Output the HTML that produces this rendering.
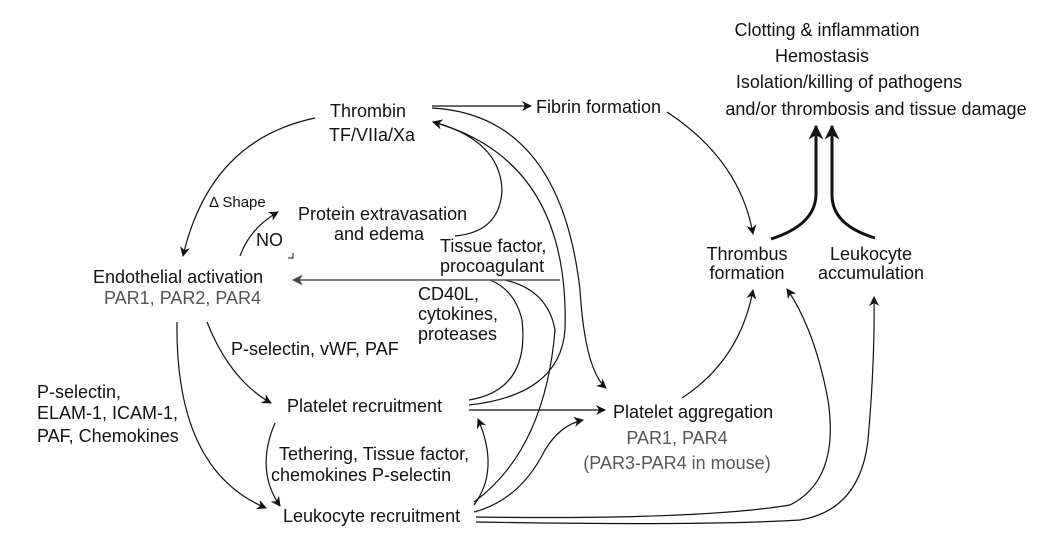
<!DOCTYPE html>
<html><head><meta charset="utf-8"><style>
html,body{margin:0;padding:0;background:#fff}
svg{display:block}
text{font-family:"Liberation Sans",Arial,sans-serif;font-size:18px;fill:#111}
.g{fill:#555}
</style></head><body>
<svg width="1064" height="542" viewBox="0 0 1064 542" xmlns="http://www.w3.org/2000/svg">
<defs>
<marker id="a" viewBox="0 0 10 10" refX="9" refY="5" markerWidth="10" markerHeight="10" orient="auto" markerUnits="userSpaceOnUse"><path d="M0,0 L10,5 L0,10 L3,5 z" fill="#111"/></marker>
<marker id="ag" viewBox="0 0 10 10" refX="9" refY="5" markerWidth="11" markerHeight="11" orient="auto" markerUnits="userSpaceOnUse"><path d="M0,0 L10,5 L0,10 L3,5 z" fill="#444"/></marker>
<marker id="ab" viewBox="0 0 10 10" refX="9" refY="5" markerWidth="15" markerHeight="15" orient="auto" markerUnits="userSpaceOnUse"><path d="M0,0 L10,5 L0,10 L3,5 z" fill="#111"/></marker>
</defs>
<g text-anchor="middle">
<text x="827" y="36">Clotting &amp; inflammation</text>
<text x="822" y="62">Hemostasis</text>
<text x="849" y="88">Isolation/killing of pathogens</text>
<text x="876" y="115">and/or thrombosis and tissue damage</text>
<text x="368" y="117">Thrombin</text>
<text x="372" y="141">TF/VIIa/Xa</text>
<text x="747" y="260">Thrombus</text>
<text x="747" y="279">formation</text>
<text x="871" y="260">Leukocyte</text>
<text x="871" y="279">accumulation</text>
<text x="677" y="444" class="g">PAR1, PAR4</text>
<text x="677" y="469" class="g">(PAR3-PAR4 in mouse)</text>
</g>
<text x="536" y="113">Fibrin formation</text>
<text x="209" y="207" style="font-size:15px">Δ Shape</text>
<text x="298" y="220">Protein extravasation</text>
<text x="334" y="240">and edema</text>
<text x="256" y="246">NO</text>
<path d="M288,258 H293 V253" stroke="#111" fill="none" stroke-width="1"/>
<text x="440" y="252">Tissue factor,</text>
<text x="440" y="272">procoagulant</text>
<text x="93" y="283">Endothelial activation</text>
<text x="104" y="304" class="g">PAR1, PAR2, PAR4</text>
<text x="418" y="300">CD40L,</text>
<text x="418" y="320">cytokines,</text>
<text x="418" y="340">proteases</text>
<text x="231" y="355">P-selectin, vWF, PAF</text>
<text x="37" y="398">P-selectin,</text>
<text x="37" y="419">ELAM-1, ICAM-1,</text>
<text x="37" y="442">PAF, Chemokines</text>
<text x="287" y="412">Platelet recruitment</text>
<text x="613" y="418">Platelet aggregation</text>
<text x="279" y="460">Tethering,  Tissue factor,</text>
<text x="271" y="481">chemokines P-selectin</text>
<text x="283" y="522">Leukocyte recruitment</text>

<g fill="none" stroke="#111" stroke-width="1.2">
<path d="M432,106 L531,106" marker-end="url(#a)"/>
<path d="M667,112 Q740,160 753,234" marker-end="url(#a)"/>
<path d="M315,118 Q210,140 183,256" marker-end="url(#a)"/>
<path d="M240,256 Q250,228 278,212" marker-end="url(#a)"/>
<path d="M207,322 Q230,380 271,403" marker-end="url(#a)"/>
<path d="M177,322 Q175,470 266,508" marker-end="url(#a)"/>
<path d="M275,423 Q255,470 280,506" marker-end="url(#a)"/>
<path d="M469,410 L605,410" marker-end="url(#a)"/>
<path d="M455,236 Q500,232 502,190 Q500,140 433,122" marker-end="url(#a)"/>
<path d="M469,405 Q560,395 565,330 Q570,160 433,122" marker-end="url(#a)"/>
<path d="M432,108 Q560,115 580,290 Q585,370 606,388" marker-end="url(#a)"/>
<path d="M469,400 Q530,390 522,320 Q515,290 490,280"/>
<path d="M474,502 Q545,450 555,330 Q548,290 505,280"/>
<path d="M474,505 Q500,470 478,419" marker-end="url(#a)"/>
<path d="M474,512 Q520,500 545,450 Q560,425 583,420" marker-end="url(#a)"/>
<path d="M682,398 Q740,360 753,290" marker-end="url(#a)"/>
<path d="M476,517 Q700,520 790,505 Q840,480 828,400 Q815,330 787,289" marker-end="url(#a)"/>
<path d="M476,522 Q700,526 800,520 Q860,510 868,440 Q875,360 874,297" marker-end="url(#a)"/>
</g>
<path d="M560,280 L293,280" stroke="#555" stroke-width="1.6" fill="none" marker-end="url(#ag)"/>
<g fill="none" stroke="#111" stroke-width="3">
<path d="M771,239 Q815,225 816,195 L816,126" marker-end="url(#ab)"/>
<path d="M875,238 Q832,225 832,195 L832,126" marker-end="url(#ab)"/>
</g>
</svg>
</body></html>
